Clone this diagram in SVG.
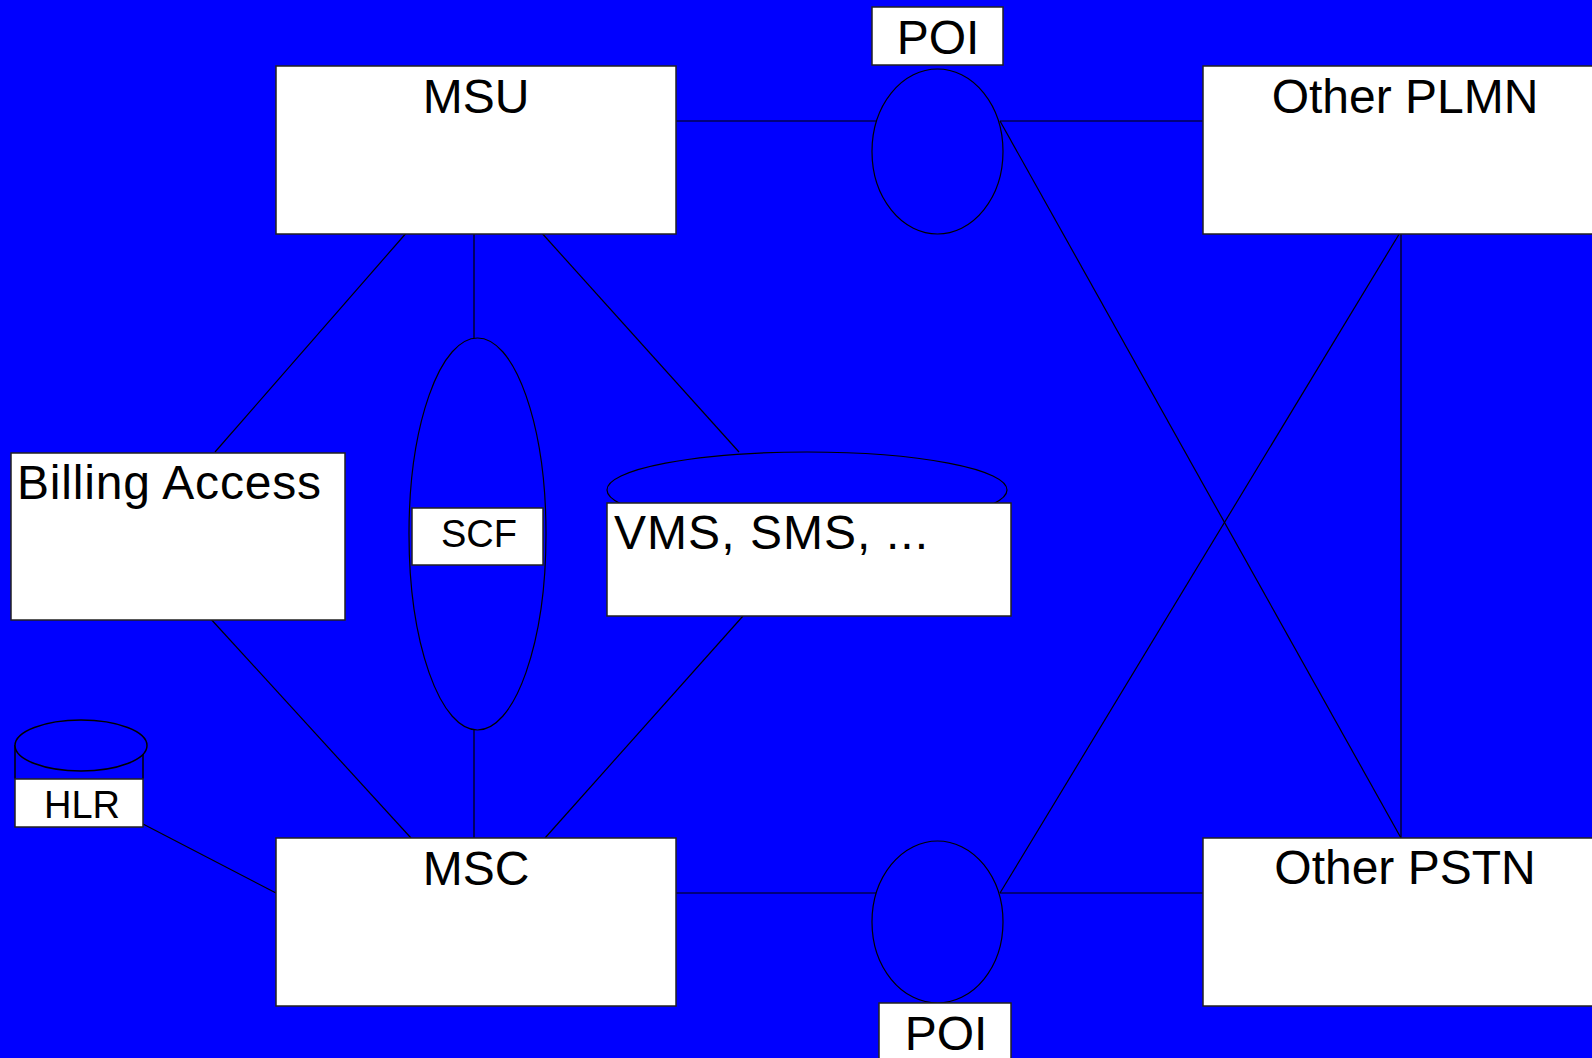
<svg xmlns="http://www.w3.org/2000/svg" width="1592" height="1058" viewBox="0 0 1592 1058">
  <style>
    .box { fill: #ffffff; stroke: #222222; stroke-width: 1.5; }
    .ring { fill: none; stroke: #000000; stroke-width: 1.2; }
    .cyl { fill: #0000ff; stroke: #000000; stroke-width: 1.5; }
    .lbl { font-family: "Liberation Sans", Arial, sans-serif; font-size: 48px; fill: #000000; }
    .small { font-size: 38px; }
    .mid { text-anchor: middle; }
    #connectors line { stroke: #000000; stroke-width: 1.2; }
  </style>
  <rect x="0" y="0" width="1592" height="1058" fill="#0000ff"/>

  <!-- links between network elements -->
  <g id="connectors">
    <line x1="676" y1="121" x2="876" y2="121"/>
    <line x1="1000" y1="121" x2="1203" y2="121"/>
    <line x1="676" y1="893" x2="876" y2="893"/>
    <line x1="1000" y1="893" x2="1203" y2="893"/>
    <line x1="1000" y1="121" x2="1401" y2="838"/>
    <line x1="1000" y1="893" x2="1401" y2="231"/>
    <line x1="1401" y1="231" x2="1401" y2="838"/>
    <line x1="408" y1="231" x2="215" y2="452"/>
    <line x1="474" y1="231" x2="474" y2="338"/>
    <line x1="540" y1="231" x2="739" y2="452"/>
    <line x1="209" y1="617" x2="411" y2="838"/>
    <line x1="474" y1="730" x2="474" y2="838"/>
    <line x1="743" y1="616" x2="545" y2="838"/>
    <line x1="143" y1="824" x2="276" y2="893"/>
  </g>

  <g id="msu">
    <rect class="box" x="276" y="66" width="400" height="168"/>
    <text class="lbl mid" x="476" y="113">MSU</text>
  </g>

  <g id="msc">
    <rect class="box" x="276" y="838" width="400" height="168"/>
    <text class="lbl mid" x="476" y="885">MSC</text>
  </g>

  <g id="other-plmn">
    <rect class="box" x="1203" y="66" width="420" height="168"/>
    <text class="lbl mid" x="1405" y="113">Other PLMN</text>
  </g>

  <g id="other-pstn">
    <rect class="box" x="1203" y="838" width="420" height="168"/>
    <text class="lbl mid" x="1405" y="884">Other PSTN</text>
  </g>

  <g id="poi-top">
    <rect class="box" x="872" y="7" width="131" height="58"/>
    <text class="lbl mid" x="938" y="54">POI</text>
    <ellipse class="ring" cx="937.5" cy="151.5" rx="65.5" ry="82.5"/>
  </g>

  <g id="poi-bottom">
    <ellipse class="ring" cx="937.5" cy="922" rx="65.5" ry="81"/>
    <rect class="box" x="879" y="1003" width="132" height="70"/>
    <text class="lbl mid" x="946" y="1050">POI</text>
  </g>

  <g id="billing-access">
    <rect class="box" x="11" y="453" width="334" height="167"/>
    <text class="lbl" x="17" y="499" textLength="304" lengthAdjust="spacing">Billing Access</text>
  </g>

  <g id="scf">
    <ellipse class="ring" cx="477.5" cy="534" rx="68.5" ry="196"/>
    <rect class="box" x="412" y="508" width="131" height="57"/>
    <text class="lbl small mid" x="479" y="547">SCF</text>
  </g>

  <g id="vms-sms">
    <ellipse class="ring" cx="807" cy="490" rx="200" ry="38"/>
    <rect class="box" x="607" y="503" width="404" height="113"/>
    <text class="lbl" x="614" y="549" textLength="314" lengthAdjust="spacing">VMS, SMS, ...</text>
  </g>

  <g id="hlr">
    <line x1="15" y1="745" x2="15" y2="779" stroke="#000" stroke-width="1.5"/>
    <line x1="143" y1="742" x2="143" y2="779" stroke="#000" stroke-width="1.5"/>
    <ellipse class="cyl" cx="81" cy="745.5" rx="66" ry="25.5"/>
    <rect class="box" x="15" y="779" width="128" height="48"/>
    <text class="lbl small mid" x="82" y="818">HLR</text>
  </g>
</svg>
